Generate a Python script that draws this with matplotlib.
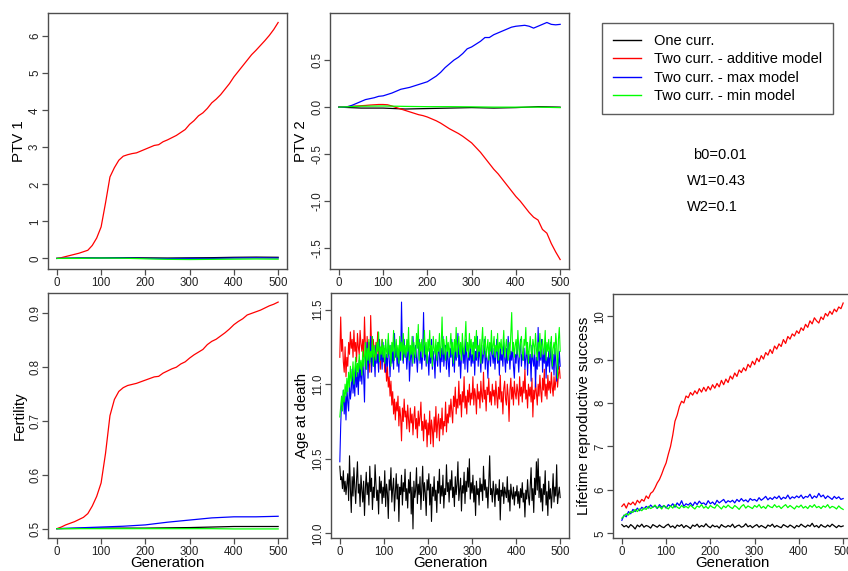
import numpy as np
import matplotlib
matplotlib.use("Agg")
import matplotlib.pyplot as plt
from matplotlib.lines import Line2D

plt.rcParams['font.family'] = ['Liberation Sans', 'DejaVu Sans']

# ---------------- data ----------------
series_names = ["One curr.", "Two curr. - additive model", "Two curr. - max model", "Two curr. - min model"]
series_colors = ["#000000", "#FF0000", "#0000FF", "#00FF00"]

gen10 = np.arange(0, 501, 10)
gen5 = np.arange(0, 501, 5)
gen50 = np.arange(0, 501, 50)

# PTV 1
ptv1_red = [0, 0.02, 0.05, 0.08, 0.11, 0.14, 0.18, 0.22, 0.35, 0.55, 0.85, 1.5, 2.2, 2.45, 2.65, 2.76,
            2.8, 2.83, 2.85, 2.9, 2.95, 3.0, 3.05, 3.07, 3.15, 3.2, 3.26, 3.32, 3.4, 3.48, 3.62, 3.72,
            3.85, 3.93, 4.05, 4.2, 4.3, 4.42, 4.57, 4.72, 4.9, 5.05, 5.2, 5.35, 5.5, 5.62, 5.75, 5.88,
            6.02, 6.18, 6.37]
ptv1_black = [0, 0.01, 0.015, 0.02, 0.015, 0.01, 0.015, 0.02, 0.03, 0.035, 0.03]
ptv1_blue = [0, 0.005, 0.01, 0.01, 0.0, -0.005, 0.0, 0.0, 0.01, 0.015, 0.01]
ptv1_green = [0, 0.0, 0.01, 0.005, -0.01, -0.025, -0.03, -0.025, -0.02, -0.015, -0.02]

# PTV 2
ptv2_red = [0, 0.003, 0.006, 0.01, 0.012, 0.015, 0.018, 0.022, 0.025, 0.028, 0.028, 0.025, 0.012,
            -0.005, -0.02, -0.035, -0.05, -0.065, -0.08, -0.09, -0.105, -0.125, -0.145, -0.17, -0.2,
            -0.23, -0.255, -0.28, -0.31, -0.345, -0.38, -0.43, -0.48, -0.54, -0.6, -0.66, -0.71, -0.77,
            -0.83, -0.89, -0.95, -1.0, -1.06, -1.12, -1.17, -1.2, -1.3, -1.34, -1.45, -1.54, -1.62]
ptv2_blue = [0, 0.0, 0.005, 0.02, 0.04, 0.06, 0.08, 0.09, 0.1, 0.115, 0.12, 0.135, 0.15, 0.17, 0.19,
             0.2, 0.21, 0.225, 0.24, 0.255, 0.27, 0.3, 0.33, 0.37, 0.42, 0.46, 0.5, 0.53, 0.57, 0.62,
             0.64, 0.67, 0.7, 0.74, 0.74, 0.77, 0.79, 0.81, 0.83, 0.85, 0.86, 0.865, 0.87, 0.86, 0.84,
             0.86, 0.88, 0.9, 0.88, 0.875, 0.88]
ptv2_black = [0, -0.01, -0.01, -0.02, -0.015, -0.01, -0.005, -0.01, -0.005, 0.005, 0.0]
ptv2_green = [0, 0.01, 0.012, 0.008, 0.005, 0.005, 0.003, 0.0, 0.0, 0.0, -0.005]

# Fertility
fert_red = [0.5, 0.503, 0.507, 0.51, 0.513, 0.517, 0.521, 0.528, 0.542, 0.56, 0.585, 0.64, 0.71, 0.74,
            0.755, 0.762, 0.766, 0.768, 0.77, 0.773, 0.776, 0.779, 0.782, 0.783, 0.789, 0.793, 0.797,
            0.8, 0.806, 0.81, 0.817, 0.823, 0.828, 0.833, 0.842, 0.848, 0.852, 0.858, 0.864, 0.871,
            0.879, 0.885, 0.89, 0.897, 0.9, 0.903, 0.906, 0.91, 0.914, 0.917, 0.921]
fert_black = [0.5, 0.5005, 0.501, 0.501, 0.501, 0.5015, 0.502, 0.503, 0.504, 0.504, 0.504]
fert_blue = [0.5, 0.5015, 0.503, 0.5045, 0.507, 0.512, 0.516, 0.52, 0.522, 0.522, 0.523]
fert_green = [0.5, 0.5, 0.5, 0.5, 0.5, 0.5, 0.5, 0.5, 0.4995, 0.4995, 0.4995]

# Age at death (every 2 generations, 0..500)
age_black = [
    10.45, 10.36, 10.38, 10.30, 10.42, 10.28, 10.35, 10.26, 10.33, 10.40, 10.22, 10.52, 10.30, 10.14, 10.38, 10.25, 10.44, 10.31, 10.20, 10.36, 10.48, 10.27, 10.33, 10.18, 10.39,
    10.29, 10.21, 10.35, 10.12, 10.30, 10.41, 10.26, 10.34, 10.19, 10.45, 10.28, 10.37, 10.16, 10.31, 10.24, 10.46, 10.33, 10.22, 10.29, 10.13, 10.38, 10.27, 10.35, 10.20, 10.31,
    10.24, 10.42, 10.18, 10.33, 10.27, 10.10, 10.36, 10.29, 10.44, 10.21, 10.30, 10.37, 10.15, 10.28, 10.40, 10.23, 10.33, 10.08, 10.31, 10.26, 10.39, 10.19, 10.34, 10.28, 10.43,
    10.22, 10.30, 10.17, 10.36, 10.27, 10.41, 10.13, 10.31, 10.03, 10.35, 10.24, 10.29, 10.44, 10.20, 10.33, 10.26, 10.38, 10.16, 10.30, 10.45, 10.22, 10.34, 10.27, 10.12, 10.36,
    10.29, 10.40, 10.19, 10.33, 10.08, 10.31, 10.25, 10.38, 10.22, 10.29, 10.14, 10.35, 10.27, 10.43, 10.20, 10.32, 10.25, 10.39, 10.17, 10.30, 10.26, 10.46, 10.28, 10.34, 10.21,
    10.36, 10.29, 10.42, 10.24, 10.31, 10.18, 10.38, 10.26, 10.33, 10.48, 10.22, 10.30, 10.37, 10.15, 10.32, 10.27, 10.41, 10.20, 10.35, 10.28, 10.44, 10.31, 10.50, 10.23, 10.34,
    10.27, 10.39, 10.21, 10.32, 10.12, 10.35, 10.26, 10.30, 10.19, 10.37, 10.28, 10.33, 10.22, 10.45, 10.29, 10.36, 10.24, 10.31, 10.17, 10.34, 10.52, 10.26, 10.30, 10.21, 10.35,
    10.28, 10.18, 10.33, 10.26, 10.30, 10.22, 10.36, 10.09, 10.29, 10.25, 10.34, 10.20, 10.31, 10.27, 10.24, 10.38, 10.21, 10.29, 10.15, 10.33, 10.26, 10.23, 10.31, 10.19, 10.28,
    10.25, 10.32, 10.20, 10.28, 10.17, 10.30, 10.24, 10.34, 10.21, 10.27, 10.11, 10.29, 10.23, 10.36, 10.25, 10.19, 10.31, 10.44, 10.22, 10.30, 10.14, 10.37, 10.26, 10.48, 10.29,
    10.50, 10.24, 10.38, 10.21, 10.30, 10.15, 10.33, 10.26, 10.42, 10.19, 10.28, 10.12, 10.35, 10.23, 10.30, 10.17, 10.27, 10.40, 10.21, 10.31, 10.25, 10.46, 10.20, 10.26, 10.31,
    10.24]
age_red = [
    11.18, 11.45, 11.22, 11.30, 11.15, 11.08, 11.25, 11.05, 11.18, 11.12, 11.28, 11.20, 11.35, 11.24, 11.30, 11.18, 11.36, 11.22, 11.28, 11.15, 11.34, 11.25, 11.20, 11.36, 11.27,
    11.22, 11.30, 11.18, 11.45, 11.25, 11.12, 11.32, 11.20, 11.28, 11.08, 11.46, 11.26, 11.18, 11.30, 11.22, 11.14, 11.28, 11.20, 11.35, 11.17, 11.25, 11.10, 11.22, 11.30, 11.15,
    11.20, 11.08, 11.15, 11.02, 11.12, 10.98, 11.05, 10.92, 11.02, 10.86, 10.95, 10.80, 10.90, 10.76, 10.88, 10.82, 10.92, 10.72, 10.85, 10.78, 10.62, 10.84, 10.75, 10.90, 10.78,
    10.82, 10.70, 10.86, 10.76, 10.68, 10.84, 10.74, 10.80, 10.66, 10.78, 10.85, 10.70, 10.77, 10.64, 10.82, 10.72, 10.78, 10.88, 10.69, 10.75, 10.62, 10.80, 10.70, 10.76, 10.58,
    10.74, 10.66, 10.82, 10.60, 10.76, 10.70, 10.58, 10.78, 10.68, 10.85, 10.64, 10.74, 10.80, 10.62, 10.77, 10.70, 10.84, 10.66, 10.75, 10.72, 10.88, 10.68, 10.80, 10.74, 10.86,
    10.78, 10.90, 10.82, 10.74, 10.92, 10.85, 10.98, 10.80, 10.90, 10.84, 11.02, 10.86, 10.93, 10.78, 10.95, 10.88, 11.05, 10.84, 10.92, 10.80, 10.96, 10.88, 11.00, 10.86, 10.94,
    10.90, 11.05, 10.86, 10.97, 10.92, 10.80, 11.00, 10.90, 10.95, 10.84, 11.02, 10.92, 10.88, 11.08, 10.90, 10.96, 10.82, 10.98, 10.93, 11.04, 10.88, 10.95, 10.86, 11.00, 10.92,
    10.96, 10.86, 11.02, 10.92, 10.84, 10.98, 10.90, 11.06, 10.88, 10.95, 10.80, 10.97, 11.02, 10.90, 10.86, 11.00, 10.92, 10.75, 10.96, 11.04, 10.90, 10.98, 10.86, 11.02, 10.94,
    10.90, 11.00, 10.95, 10.86, 11.05, 10.92, 10.98, 10.88, 11.02, 10.94, 11.10, 10.90, 10.96, 10.84, 11.00, 10.92, 10.98, 10.88, 11.04, 10.78, 10.96, 10.90, 11.02, 10.94, 10.86,
    11.00, 10.92, 11.06, 10.95, 10.88, 11.04, 10.96, 11.10, 10.92, 11.00, 10.90, 11.06, 10.96, 11.02, 10.94, 11.08, 10.98, 10.92, 11.05, 10.96, 11.02, 11.10, 10.98, 11.06, 11.12,
    11.04]
age_blue = [
    10.48, 10.72, 10.90, 10.85, 10.96, 10.80, 10.92, 10.76, 10.98, 10.88, 10.82, 11.02, 10.90, 10.96, 11.10, 10.94, 11.05, 10.92, 11.14, 10.98, 11.08, 10.93, 11.16, 11.02, 11.12,
    11.00, 11.18, 11.06, 10.88, 11.20, 11.10, 11.28, 11.04, 11.22, 11.15, 11.32, 11.08, 11.24, 11.12, 11.18, 11.05, 11.26, 11.14, 11.20, 11.08, 11.30, 11.16, 11.22, 11.10, 11.28,
    11.15, 11.24, 11.08, 11.20, 11.12, 11.30, 11.18, 11.05, 11.26, 11.14, 11.22, 11.10, 11.34, 11.18, 11.25, 11.12, 11.20, 11.08, 11.28, 11.16, 11.55, 11.22, 11.14, 11.30, 11.18,
    11.24, 11.10, 11.20, 11.28, 11.02, 11.16, 11.25, 11.12, 11.32, 11.20, 11.14, 11.26, 11.18, 11.08, 11.22, 11.30, 11.14, 11.24, 11.10, 11.20, 11.48, 11.16, 11.26, 11.12, 11.22,
    11.18, 11.06, 11.24, 11.14, 11.30, 11.10, 11.22, 11.16, 11.04, 11.26, 11.18, 11.12, 11.28, 11.20, 11.08, 11.24, 11.15, 11.32, 11.12, 11.20, 11.26, 11.10, 11.22, 11.16, 11.05,
    11.24, 11.18, 11.30, 11.12, 11.22, 11.08, 11.26, 11.16, 11.20, 11.34, 11.12, 11.22, 11.04, 11.18, 11.28, 11.14, 11.24, 11.10, 11.30, 11.18, 11.08, 11.22, 11.16, 11.26, 11.12,
    11.20, 11.14, 11.28, 11.06, 11.22, 11.16, 11.32, 11.12, 11.24, 11.18, 11.08, 11.26, 11.14, 11.20, 11.30, 11.10, 11.22, 11.16, 11.04, 11.24, 11.18, 11.12, 11.28, 11.20, 11.14,
    11.24, 11.10, 11.20, 11.30, 11.14, 11.22, 11.06, 11.26, 11.16, 11.20, 11.12, 11.28, 11.18, 11.08, 11.24, 11.14, 11.32, 11.20, 11.10, 11.22, 11.16, 11.26, 11.12, 11.04, 11.20,
    11.14, 11.26, 11.18, 11.08, 11.22, 11.30, 11.12, 11.20, 11.16, 11.24, 11.10, 11.18, 11.28, 11.06, 11.22, 11.14, 11.20, 11.02, 11.26, 11.16, 11.12, 11.24, 10.98, 11.18, 11.10,
    11.38, 11.12, 11.22, 11.16, 11.30, 11.08, 11.20, 11.14, 11.26, 11.04, 11.18, 11.12, 11.22, 11.08, 11.28, 11.16, 11.10, 11.20, 11.06, 11.24, 11.14, 11.02, 11.18, 11.10, 11.22,
    11.12]
age_green = [
    10.78, 10.85, 10.92, 10.82, 10.96, 10.88, 11.00, 10.92, 11.04, 10.95, 11.08, 10.98, 11.12, 11.02, 11.06, 11.15, 11.00, 11.10, 11.18, 11.05, 11.14, 11.08, 11.20, 11.10, 11.16,
    11.06, 11.22, 11.12, 11.18, 11.28, 11.10, 11.24, 11.16, 11.30, 11.14, 11.22, 11.18, 11.32, 11.12, 11.26, 11.20, 11.16, 11.28, 11.22, 11.35, 11.15, 11.25, 11.20, 11.30, 11.18,
    11.26, 11.14, 11.30, 11.22, 11.18, 11.34, 11.20, 11.26, 11.12, 11.28, 11.22, 11.36, 11.16, 11.24, 11.30, 11.18, 11.26, 11.14, 11.32, 11.22, 11.28, 11.16, 11.34, 11.20, 11.26,
    11.18, 11.30, 11.22, 11.38, 11.16, 11.26, 11.20, 11.32, 11.14, 11.28, 11.22, 11.18, 11.34, 11.24, 11.40, 11.16, 11.28, 11.22, 11.30, 11.18, 11.26, 11.36, 11.20, 11.28, 11.14,
    11.30, 11.22, 11.36, 11.18, 11.26, 11.12, 11.32, 11.24, 11.20, 11.30, 11.16, 11.28, 11.22, 11.34, 11.18, 11.26, 11.45, 11.20, 11.30, 11.24, 11.16, 11.32, 11.22, 11.28, 11.18,
    11.26, 11.34, 11.20, 11.28, 11.14, 11.30, 11.22, 11.38, 11.18, 11.26, 11.32, 11.20, 11.28, 11.16, 11.34, 11.24, 11.20, 11.30, 11.42, 11.22, 11.28, 11.18, 11.34, 11.24, 11.30,
    11.20, 11.28, 11.16, 11.32, 11.24, 11.36, 11.18, 11.26, 11.22, 11.30, 11.14, 11.28, 11.38, 11.20, 11.26, 11.32, 11.18, 11.24, 11.30, 11.16, 11.28, 11.22, 11.36, 11.20, 11.26,
    11.32, 11.18, 11.26, 11.22, 11.34, 11.16, 11.28, 11.24, 11.30, 11.20, 11.26, 11.36, 11.18, 11.24, 11.30, 11.22, 11.16, 11.28, 11.20, 11.34, 11.48, 11.22, 11.28, 11.18, 11.26,
    11.30, 11.20, 11.36, 11.24, 11.18, 11.28, 11.32, 11.22, 11.16, 11.30, 11.26, 11.38, 11.20, 11.28, 11.14, 11.24, 11.32, 11.22, 11.18, 11.30, 11.26, 11.20, 11.34, 11.24, 11.16,
    11.28, 11.22, 11.34, 11.18, 11.26, 11.30, 11.20, 11.24, 11.36, 11.16, 11.28, 11.22, 11.30, 11.18, 11.26, 11.32, 11.12, 11.24, 11.28, 11.20, 11.34, 11.26, 11.04, 11.30, 11.38,
    11.22]

# Lifetime reproductive success (every 5 generations)
lrs_red = [5.62, 5.68, 5.58, 5.70, 5.66, 5.72, 5.65, 5.76, 5.70, 5.78,
           5.74, 5.86, 5.80, 5.92, 5.96, 6.05, 6.16, 6.24, 6.36, 6.50,
           6.62, 6.82, 7.00, 7.26, 7.58, 7.72, 7.92, 8.04, 8.00, 8.16,
           8.12, 8.24, 8.18, 8.28, 8.21, 8.33, 8.25, 8.36, 8.27, 8.38,
           8.30, 8.42, 8.34, 8.45, 8.37, 8.52, 8.42, 8.55, 8.47, 8.62,
           8.55, 8.69, 8.61, 8.76, 8.70, 8.81, 8.74, 8.89, 8.82, 8.96,
           8.88, 9.03, 8.95, 9.09, 9.01, 9.16, 9.10, 9.23, 9.14, 9.31,
           9.24, 9.36, 9.30, 9.46, 9.37, 9.53, 9.47, 9.59, 9.54, 9.66,
           9.60, 9.73, 9.67, 9.81, 9.74, 9.89, 9.82, 9.96, 9.89, 9.84,
           9.98, 9.92, 10.06, 10.00, 10.11, 10.04, 10.16, 10.10, 10.21, 10.17,
           10.30]
lrs_blue = [5.30, 5.42, 5.38, 5.50, 5.45, 5.55, 5.50, 5.58, 5.52, 5.60,
            5.56, 5.62, 5.58, 5.65, 5.60, 5.63, 5.57, 5.66, 5.60, 5.64,
            5.58, 5.66, 5.62, 5.68, 5.60, 5.70, 5.64, 5.75, 5.62, 5.68,
            5.65, 5.70, 5.63, 5.72, 5.66, 5.74, 5.68, 5.70, 5.65, 5.75,
            5.68, 5.72, 5.66, 5.76, 5.70, 5.74, 5.78, 5.70, 5.75, 5.72,
            5.76, 5.70, 5.78, 5.73, 5.80, 5.74, 5.77, 5.72, 5.80, 5.76,
            5.78, 5.74, 5.82, 5.76, 5.80, 5.85, 5.77, 5.82, 5.78, 5.84,
            5.80, 5.86, 5.78, 5.83, 5.80, 5.88, 5.79, 5.84, 5.81, 5.86,
            5.82, 5.88, 5.80, 5.85, 5.83, 5.90, 5.80, 5.86, 5.82, 5.92,
            5.84, 5.88, 5.80, 5.86, 5.82, 5.78, 5.85, 5.80, 5.84, 5.78,
            5.80]
lrs_green = [5.35, 5.40, 5.45, 5.42, 5.50, 5.48, 5.55, 5.50, 5.56, 5.52,
             5.58, 5.55, 5.62, 5.57, 5.60, 5.65, 5.58, 5.62, 5.56, 5.64,
             5.60, 5.56, 5.63, 5.58, 5.66, 5.60, 5.57, 5.64, 5.59, 5.62,
             5.58, 5.65, 5.60, 5.56, 5.63, 5.60, 5.66, 5.58, 5.62, 5.57,
             5.64, 5.60, 5.58, 5.66, 5.61, 5.56, 5.63, 5.59, 5.65, 5.60,
             5.57, 5.64, 5.60, 5.55, 5.62, 5.66, 5.58, 5.63, 5.60, 5.57,
             5.64, 5.60, 5.66, 5.58, 5.62, 5.57, 5.65, 5.61, 5.59, 5.66,
             5.60, 5.63, 5.57, 5.62, 5.66, 5.59, 5.64, 5.60, 5.56, 5.63,
             5.60, 5.65, 5.58, 5.62, 5.57, 5.64, 5.60, 5.66, 5.59, 5.62,
             5.57, 5.63, 5.60, 5.66, 5.58, 5.62, 5.60, 5.56, 5.63, 5.58,
             5.55]
lrs_black = [5.20, 5.15, 5.18, 5.13, 5.20, 5.16, 5.10, 5.19, 5.15, 5.21,
             5.14, 5.18, 5.16, 5.12, 5.20, 5.17, 5.14, 5.19, 5.15, 5.13,
             5.18, 5.21, 5.14, 5.17, 5.12, 5.19, 5.16, 5.20, 5.13, 5.18,
             5.15, 5.11, 5.19, 5.16, 5.21, 5.14, 5.18, 5.15, 5.22, 5.16,
             5.13, 5.19, 5.15, 5.17, 5.12, 5.20, 5.16, 5.14, 5.18, 5.15,
             5.21, 5.13, 5.17, 5.19, 5.14, 5.16, 5.22, 5.15, 5.18, 5.13,
             5.17, 5.20, 5.14, 5.18, 5.15, 5.12, 5.19, 5.16, 5.21, 5.14,
             5.18, 5.15, 5.13, 5.20, 5.17, 5.14, 5.19, 5.16, 5.12, 5.18,
             5.15, 5.21, 5.17, 5.14, 5.19, 5.16, 5.23, 5.15, 5.18, 5.13,
             5.20, 5.16, 5.14, 5.19, 5.15, 5.21, 5.17, 5.13, 5.18, 5.15,
             5.17]

param_lines = ["b0=0.01", "W1=0.43", "W2=0.1"]

x_ticks = [0, 100, 200, 300, 400, 500]

# ---------------- figure ----------------
W, H = 848, 571
fig = plt.figure(figsize=(W / 100, H / 100), dpi=100)


def px_axes(left, top, right, bottom):
    return fig.add_axes([left / W, 1 - bottom / H, (right - left) / W, (bottom - top) / H])


BOX = "#4d4d4d"


def style(ax, ylabel, yticks, yticklabels=None, xlabel=None):
    for s in ax.spines.values():
        s.set_color(BOX)
        s.set_linewidth(1.0)
    ax.margins(x=0.04, y=0.04)
    ax.set_xticks(x_ticks)
    ax.set_yticks(yticks)
    if yticklabels is not None:
        ax.set_yticklabels(yticklabels)
    ax.tick_params(direction="out", length=4, width=0.9, color=BOX, labelsize=8.3,
                   labelcolor="#222222")
    ax.tick_params(axis="x", pad=1.5)
    ax.tick_params(axis="y", pad=1, labelrotation=90)
    for lab in ax.get_yticklabels():
        lab.set_va("center")
    ax.set_ylabel(ylabel, fontsize=10.8, labelpad=2)
    if xlabel:
        ax.set_xlabel(xlabel, fontsize=10.8, labelpad=-1)


LW = 0.9

ax1 = px_axes(48, 13, 287, 269)
for g, y, c in [(gen50, ptv1_black, series_colors[0]), (gen10, ptv1_red, series_colors[1]),
                (gen50, ptv1_blue, series_colors[2]), (gen50, ptv1_green, series_colors[3])]:
    ax1.plot(g, y, color=c, lw=LW)
style(ax1, "PTV 1", [0, 1, 2, 3, 4, 5, 6])

ax2 = px_axes(330, 13, 569, 269)
for g, y, c in [(gen50, ptv2_black, series_colors[0]), (gen10, ptv2_red, series_colors[1]),
                (gen10, ptv2_blue, series_colors[2]), (gen50, ptv2_green, series_colors[3])]:
    ax2.plot(g, y, color=c, lw=LW)
style(ax2, "PTV 2", [-1.5, -1.0, -0.5, 0.0, 0.5], ["-1.5", "-1.0", "-0.5", "0.0", "0.5"])

ax4 = px_axes(48, 293, 287, 538)
for g, y, c in [(gen50, fert_black, series_colors[0]), (gen10, fert_red, series_colors[1]),
                (gen50, fert_blue, series_colors[2]), (gen50, fert_green, series_colors[3])]:
    ax4.plot(g, y, color=c, lw=LW)
style(ax4, "Fertility", [0.5, 0.6, 0.7, 0.8, 0.9], ["0.5", "0.6", "0.7", "0.8", "0.9"], "Generation")

ax5 = px_axes(331, 293, 569, 538)
for y, c in zip([age_black, age_red, age_blue, age_green], series_colors):
    ax5.plot(np.linspace(0, 500, len(y)), y, color=c, lw=0.8)
style(ax5, "Age at death", [10.0, 10.5, 11.0, 11.5], ["10.0", "10.5", "11.0", "11.5"], "Generation")

ax6 = px_axes(613, 294, 852, 538)
for y, c in zip([lrs_black, lrs_red, lrs_blue, lrs_green], series_colors):
    ax6.plot(gen5, y, color=c, lw=LW)
style(ax6, "Lifetime reproductive success", [5, 6, 7, 8, 9, 10], None, "Generation")

# legend panel
handles = [Line2D([], [], color=c, lw=1.0) for c in series_colors]
leg = fig.legend(handles, series_names, loc="upper left",
                 bbox_to_anchor=(602 / W, 1 - 23 / H), frameon=True, fancybox=False,
                 fontsize=10.5, handlelength=1.9, handletextpad=0.9, labelspacing=0.3,
                 borderpad=0.75, borderaxespad=0)
leg.get_frame().set_edgecolor("#333333")
leg.get_frame().set_linewidth(1.0)

for txt, (xp, yp) in zip(param_lines, [(693, 155), (687, 181), (687, 207)]):
    fig.text(xp / W, 1 - yp / H, txt, fontsize=10.5, ha="left", va="center")

fig.savefig("out.png", dpi=100)
